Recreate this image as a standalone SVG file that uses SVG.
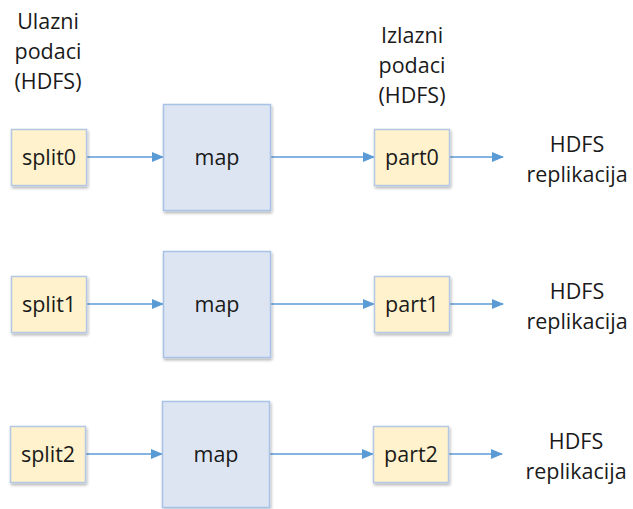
<svg xmlns="http://www.w3.org/2000/svg" width="633" height="509" viewBox="0 0 633 509">
<defs>
<marker id="ah" markerWidth="12" markerHeight="12" refX="11" refY="6" orient="auto" markerUnits="userSpaceOnUse">
<path d="M0,1 L12,6 L0,11 Z" fill="#5b9bd5"/>
</marker>
<filter id="sh" x="-20%" y="-20%" width="150%" height="150%">
<feGaussianBlur in="SourceAlpha" stdDeviation="1.5"/>
<feOffset dx="1" dy="2" result="b"/>
<feComponentTransfer><feFuncA type="linear" slope="0.3"/></feComponentTransfer>
<feMerge><feMergeNode/><feMergeNode in="SourceGraphic"/></feMerge>
</filter>
</defs>
<style>
text{font-family:"Open Sans","Liberation Sans",sans-serif;font-size:21.5px;fill:#1a1a1a;text-anchor:middle}
.y{fill:#fff2cc;stroke:#b4c8e4;stroke-width:1.5;filter:url(#sh)}
.b{fill:#dde5f3;stroke:#a8c3e6;stroke-width:1.5;filter:url(#sh)}
.c{stroke:#5b9bd5;stroke-width:1.5;fill:none;marker-end:url(#ah)}
</style>
<g id="hdr-in"><text x="48" y="29">Ulazni</text><text x="48" y="59">podaci</text><text x="48" y="89">(HDFS)</text></g>
<g id="hdr-out"><text x="412" y="43">Izlazni</text><text x="412" y="73">podaci</text><text x="412" y="103">(HDFS)</text></g>
<g id="connectors">
<line class="c" x1="87" y1="157" x2="163" y2="157"/>
<line class="c" x1="270" y1="157" x2="374" y2="157"/>
<line class="c" x1="450" y1="157" x2="503" y2="157"/>
<line class="c" x1="87" y1="304" x2="163" y2="304"/>
<line class="c" x1="270" y1="304" x2="374" y2="304"/>
<line class="c" x1="450" y1="304" x2="503" y2="304"/>
<line class="c" x1="86" y1="454" x2="162" y2="454"/>
<line class="c" x1="269" y1="454" x2="373" y2="454"/>
<line class="c" x1="449" y1="454" x2="502" y2="454"/>
</g>
<g id="split0"><rect class="y" x="11.5" y="129.5" width="75" height="56"/><text x="49" y="165">split0</text></g>
<g id="map0"><rect class="b" x="163.5" y="104.5" width="107" height="106"/><text x="217" y="165">map</text></g>
<g id="part0"><rect class="y" x="374.5" y="129.5" width="75" height="56"/><text x="412" y="165">part0</text></g>
<g id="rep0"><text x="577" y="152">HDFS</text><text x="577" y="182">replikacija</text></g>
<g id="split1"><rect class="y" x="11.5" y="276.5" width="75" height="56"/><text x="49" y="312">split1</text></g>
<g id="map1"><rect class="b" x="163.5" y="251.5" width="107" height="106"/><text x="217" y="312">map</text></g>
<g id="part1"><rect class="y" x="374.5" y="276.5" width="75" height="56"/><text x="412" y="312">part1</text></g>
<g id="rep1"><text x="577" y="299">HDFS</text><text x="577" y="329">replikacija</text></g>
<g id="split2"><rect class="y" x="10.5" y="426.5" width="75" height="56"/><text x="48" y="462">split2</text></g>
<g id="map2"><rect class="b" x="162.5" y="401.5" width="107" height="106"/><text x="216" y="462">map</text></g>
<g id="part2"><rect class="y" x="373.5" y="426.5" width="75" height="56"/><text x="411" y="462">part2</text></g>
<g id="rep2"><text x="576" y="449">HDFS</text><text x="576" y="479">replikacija</text></g>
</svg>
